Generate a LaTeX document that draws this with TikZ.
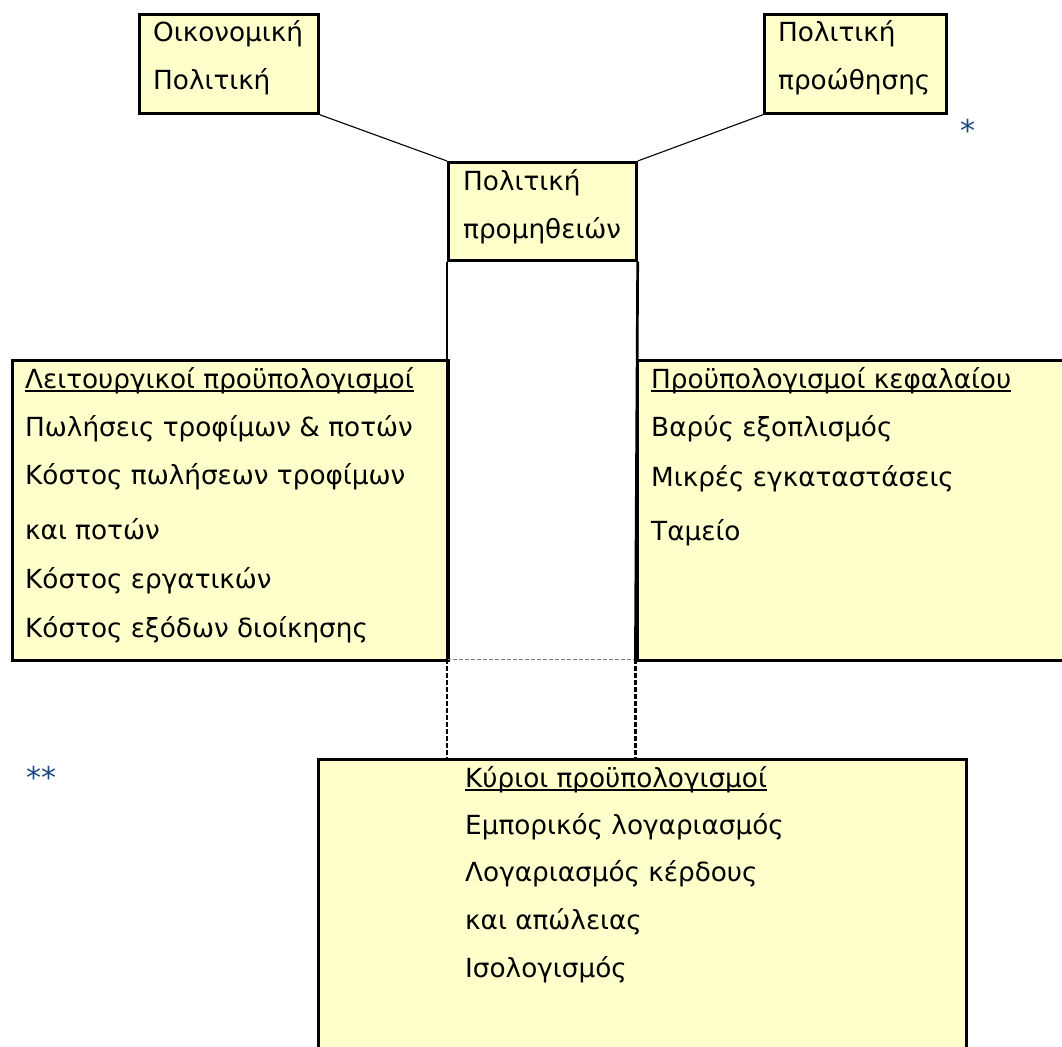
\documentclass[tikz,border=0pt]{standalone}
\usepackage{fontspec}
\setmainfont{DejaVu Sans}
\definecolor{boxfill}{HTML}{FFFFCC}
\definecolor{starblue}{HTML}{1A4A80}
\begin{document}
\begin{tikzpicture}[x=1pt,y=-1pt,
  box/.style={draw=black, fill=boxfill, line width=2.7pt, inner sep=0pt, anchor=north west},
  txt/.style={anchor=base west, inner sep=0pt, font=\fontsize{26.3}{30}\selectfont},
  link/.style={draw=black, line width=1.1pt},
  rail/.style={draw=black, line width=2.7pt},
  dashrail/.style={draw=black, line width=2.6pt, dash pattern=on 5pt off 2pt},
  dashbase/.style={draw=gray, line width=1.6pt, dash pattern=on 4pt off 2pt},
  uline/.style={draw=black, line width=1.3pt},
  star/.style={anchor=base west, inner sep=0pt, text=starblue, font=\fontsize{30}{34}\selectfont}]
\useasboundingbox (0,0) rectangle (1062,1046);
\clip (0,0) rectangle (1062,1046);

% boxes
\node[box, minimum width=179pt, minimum height=99pt] (econ) at (138,13) {};
\node[box, minimum width=182pt, minimum height=99pt] (promo) at (763,13) {};
\node[box, minimum width=188pt, minimum height=98pt] (supply) at (447,161) {};
\node[inner sep=0pt, minimum width=188pt, minimum height=400pt, anchor=north west] (column) at (447,259) {};
\node[box, minimum width=436pt, minimum height=300pt] (opbud) at (11,359) {};
\node[box, minimum width=440pt, minimum height=300pt] (capbud) at (636,359) {};
\node[box, minimum width=648pt, minimum height=330pt] (master) at (317,758) {};

% connectors from the policies to the purchasing policy
\draw[link] (econ.south east) -- (supply.north west);
\draw[link] (promo.south west) -- (supply.north east);

% the column below the purchasing policy
\draw[rail] (supply.south west) -- (column.south west);
\draw[rail] (supply.south east) -- (column.south east);
\draw[dashbase] (column.south west) -- (column.south east);
\draw[dashrail] (column.south west) -- (column.south west |- master.north);
\draw[dashrail] (column.south east) -- (column.south east |- master.north);

% texts
\node[txt] (econ1) at (153,42) {Οικονομική};
\node[txt] (econ2) at (153,90) {Πολιτική};
\node[txt] (promo1) at (778,42) {Πολιτική};
\node[txt] (promo2) at (778,90) {προώθησης};
\node[txt] (supply1) at (463,190) {Πολιτική};
\node[txt] (supply2) at (463,238) {προμηθειών};

\node[txt] (op0) at (25,388) {Λειτουργικοί προϋπολογισμοί};
\draw[uline] ([yshift=-3pt]op0.base west) -- ([yshift=-3pt]op0.base east);
\node[txt] (op1) at (25,436) {Πωλήσεις τροφίμων \& ποτών};
\node[txt] (op2) at (25,484) {Κόστος πωλήσεων τροφίμων};
\node[txt] (op3) at (25,539) {και ποτών};
\node[txt] (op4) at (25,588) {Κόστος εργατικών};
\node[txt] (op5) at (25,637) {Κόστος εξόδων διοίκησης};

\node[txt] (cap0) at (651,388) {Προϋπολογισμοί κεφαλαίου};
\draw[uline] ([yshift=-3pt]cap0.base west) -- ([yshift=-3pt]cap0.base east);
\node[txt] (cap1) at (651,436) {Βαρύς εξοπλισμός};
\node[txt] (cap2) at (651,486) {Μικρές εγκαταστάσεις};
\node[txt] (cap3) at (651,540) {Ταμείο};

\node[txt] (ms0) at (465,787) {Κύριοι προϋπολογισμοί};
\draw[uline] ([yshift=-3pt]ms0.base west) -- ([yshift=-3pt]ms0.base east);
\node[txt] (ms1) at (465,834) {Εμπορικός λογαριασμός};
\node[txt] (ms2) at (465,881) {Λογαριασμός κέρδους};
\node[txt] (ms3) at (465,929) {και απώλειας};
\node[txt] (ms4) at (465,977) {Ισολογισμός};

% footnote marks
\node[star] (mark1) at (960,141) {*};
\node[star] (mark2) at (26,788) {**};
\end{tikzpicture}
\end{document}
